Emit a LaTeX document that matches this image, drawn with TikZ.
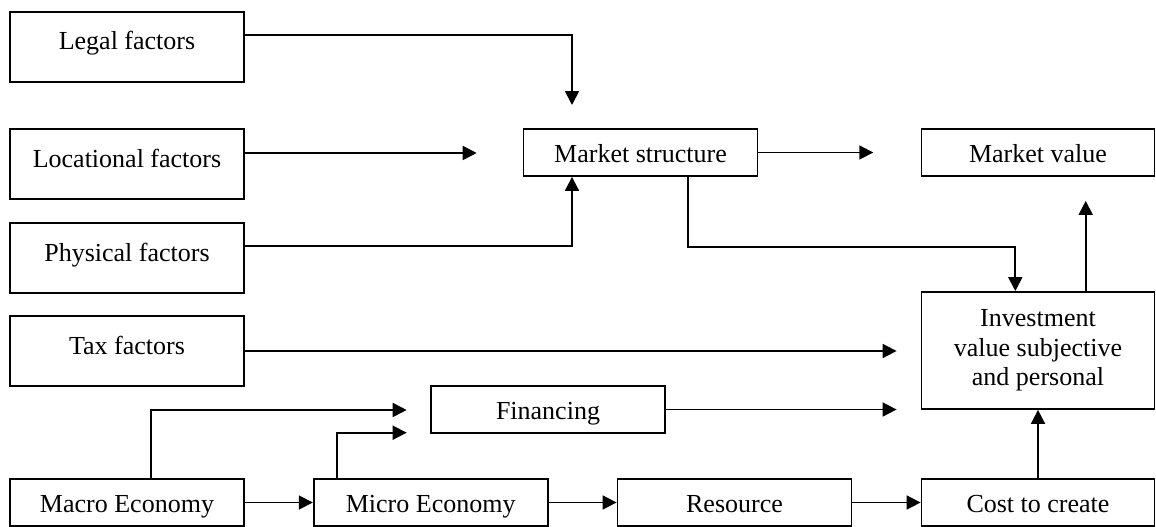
\documentclass[tikz,border=0pt]{standalone}
\usepackage{fontspec}
\setmainfont{Liberation Serif}
\usetikzlibrary{arrows.meta}

\begin{document}
\begin{tikzpicture}[x=1pt, y=-1pt, line width=1.8pt,
    >={Triangle[length=14pt,width=14pt]},
    box/.style={draw, inner sep=0pt, minimum width=234pt, font=\fontsize{26}{29.5}\selectfont, align=center},
    tallbox/.style={box, minimum height=70pt, text height=13pt, text depth=7pt},
    flatbox/.style={box, minimum height=47pt, text height=20pt, text depth=0pt}]
	%%%%% START %%%%%
	\useasboundingbox (0,0) rectangle (1156,527);

	% factors on the left
	\node[tallbox] (legal) at (127, 47) {Legal factors};
	\node[tallbox] (loc) at (127, 164) {Locational factors};
	\node[tallbox] (phys) at (127, 258) {Physical factors};
	\node[tallbox] (tax) at (127, 351) {Tax factors};

	% market and value
	\node[flatbox] (ms) at (640.5, 152.5) {Market structure};
	\node[flatbox, minimum width=233pt] (mv) at (1038, 152.5) {Market value};
	\node[box, minimum width=233pt, minimum height=117pt] (inv) at (1038, 350.5) {Investment\\value subjective\\and personal};
	\node[flatbox] (fin) at (548, 409.5) {Financing};

	% economy row
	\node[flatbox] (macro) at (127, 502.5) {Macro Economy};
	\node[flatbox] (micro) at (430.7, 502.5) {Micro Economy};
	\node[flatbox] (res) at (734.5, 502.5) {Resource};
	\node[flatbox, minimum width=233pt] (cost) at (1038, 502.5) {Cost to create};

	% free arrow ends
	\coordinate (legtip) at (572, 105);
	\coordinate (loctip) at (476.7, 153);
	\coordinate (macrotip) at (406.7, 410);
	\coordinate (microtip) at (406.7, 432.7);

	\draw[->] ([yshift=12pt]legal.east) -| (legtip);
	\draw[->] ([yshift=11pt]loc.east) -- (loctip);
	\draw[->] ([yshift=12pt]phys.east) -| ([xshift=-68.5pt]ms.south);
	\draw[->] (tax.east) -- ([xshift=-24pt]inv.west |- tax.east);

	\draw[->] (ms.east) -- ([xshift=-47.3pt]mv.west);
	\draw[->] ([xshift=47.2pt]ms.south) -- ++(0,70) -| ([xshift=-22.7pt]inv.north);
	\draw[->] ([xshift=47.7pt]inv.north) -- ([xshift=47.7pt,yshift=-24pt]mv.south);
	\draw[->] (fin.east) -- ([xshift=-24pt]inv.west |- fin.east);

	\draw[->] ([xshift=23.6pt]macro.north) |- (macrotip);
	\draw[->] ([xshift=-93.4pt]micro.north) |- (microtip);
	\draw[->] (macro) -- (micro);
	\draw[->] (micro) -- (res);
	\draw[->] (res) -- (cost);
	\draw[->] (cost) -- (inv);

	%%%%% END %%%%%
\end{tikzpicture}
\end{document}
